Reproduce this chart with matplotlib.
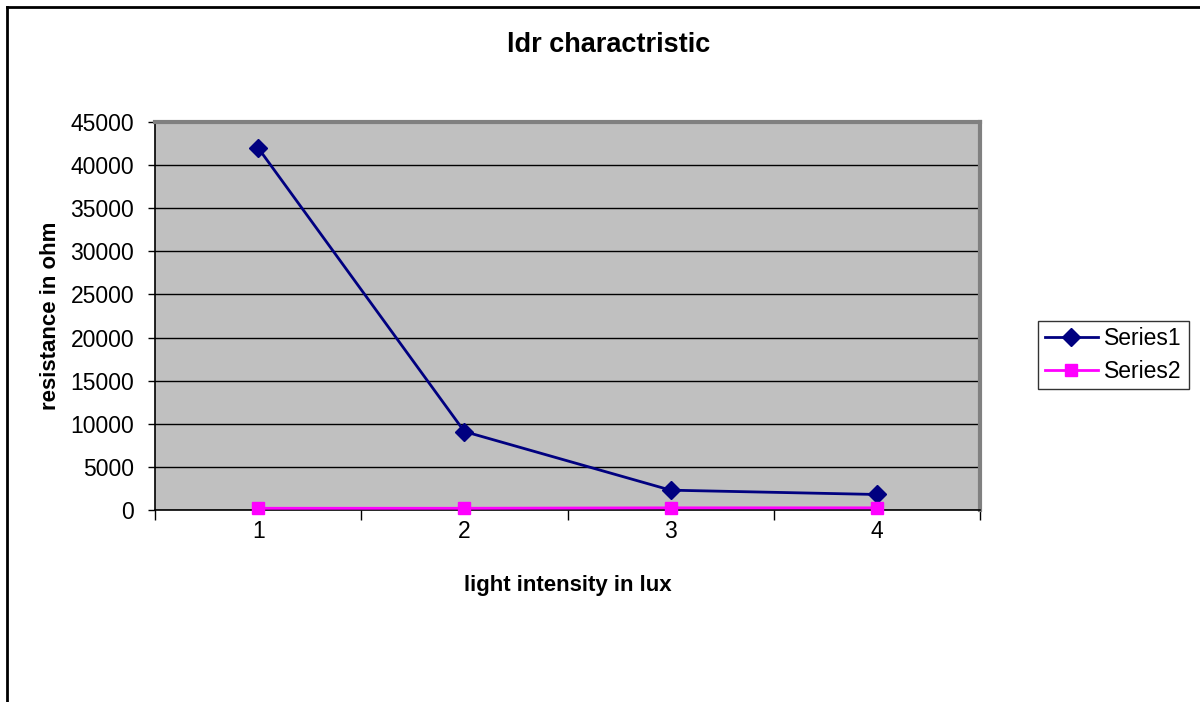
import matplotlib
matplotlib.use("Agg")
import matplotlib.pyplot as plt
from matplotlib.lines import Line2D
from matplotlib.ticker import FixedLocator

plt.rcParams["font.family"] = ["Liberation Sans", "DejaVu Sans"]

# ─── data ────────────────────────────────────────────────────────────────────
categories = [1, 2, 3, 4]
series1 = [42000, 9100, 2300, 1800]
series2 = [200, 200, 250, 250]
y_ticks = list(range(0, 45001, 5000))

# ─── figure ──────────────────────────────────────────────────────────────────
W, H = 1200, 702
fig = plt.figure(figsize=(12, 7.02), dpi=100)
ax = fig.add_axes([155 / W, 1 - 510 / H, (980 - 155) / W, (510 - 122) / H])
ax.set_facecolor("#C0C0C0")

ax.plot(categories, series1, color="#000080", marker="D", markersize=9,
        linewidth=2, label="Series1", zorder=4)
ax.plot(categories, series2, color="#FF00FF", marker="s", markersize=9,
        linewidth=2, label="Series2", zorder=4, clip_on=False)

ax.set_xlim(0.5, 4.5)
ax.set_ylim(0, 45000)
ax.set_yticks(y_ticks)
ax.set_yticklabels([str(v) for v in y_ticks], fontsize=16.5)
ax.grid(axis="y", color="black", linewidth=1)
ax.set_axisbelow(True)
ax.tick_params(axis="y", direction="out", length=5, width=1, pad=10)

ax.set_xticks(categories)
ax.set_xticklabels([str(c) for c in categories], fontsize=16.5)
ax.tick_params(axis="x", which="major", length=0, pad=7)
ax.xaxis.set_minor_locator(FixedLocator([0.5, 1.5, 2.5, 3.5, 4.5]))
ax.tick_params(axis="x", which="minor", direction="out", length=7, width=1)

for s in ["top", "right"]:
    ax.spines[s].set_color("#808080")
    ax.spines[s].set_linewidth(3)
for s in ["left", "bottom"]:
    ax.spines[s].set_color("black")
    ax.spines[s].set_linewidth(1.2)

ax.set_xlabel("light intensity in lux", fontsize=16, fontweight="bold", labelpad=23)
ax.set_ylabel("resistance in ohm", fontsize=16, fontweight="bold", labelpad=7)

fig.text(609 / W, 1 - 45 / H, "ldr charactristic", fontsize=19.5, fontweight="bold",
         ha="center", va="center")

leg = ax.legend(loc="center left", bbox_to_anchor=(1038 / W, 1 - 355 / H),
                bbox_transform=fig.transFigure, fontsize=16.5, frameon=True,
                fancybox=False, edgecolor="black", handlelength=2.3,
                borderpad=0.3, labelspacing=0.4, handletextpad=0.3,
                borderaxespad=0)
leg.get_frame().set_linewidth(1)

# chart-area frame (cut off at right and bottom)
fig.add_artist(Line2D([7 / W, 7 / W], [0, 1 - 7 / H], color="black", linewidth=2,
                      transform=fig.transFigure))
fig.add_artist(Line2D([7 / W, 1], [1 - 7 / H, 1 - 7 / H], color="black", linewidth=2,
                      transform=fig.transFigure))

fig.savefig("out.png", dpi=100)
